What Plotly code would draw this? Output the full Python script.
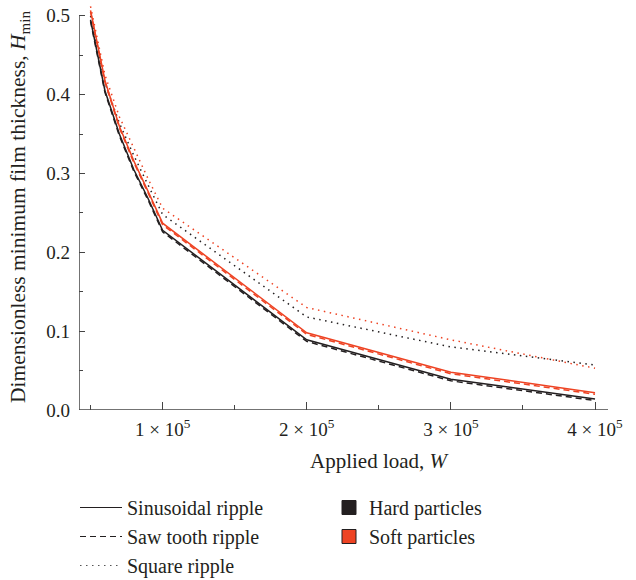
import plotly.graph_objects as go

# Applied load W and dimensionless minimum film thickness H_min
load = [50000, 60000, 70000, 80000, 90000, 100000, 200000, 300000, 400000]

hard_sinusoidal = [0.495, 0.405, 0.350, 0.305, 0.268, 0.228, 0.089, 0.039, 0.014]
hard_sawtooth = [0.493, 0.403, 0.348, 0.303, 0.266, 0.226, 0.087, 0.037, 0.012]
hard_square = [0.500, 0.415, 0.364, 0.323, 0.285, 0.248, 0.118, 0.080, 0.057]

soft_sinusoidal = [0.507, 0.418, 0.360, 0.316, 0.277, 0.237, 0.098, 0.048, 0.022]
soft_sawtooth = [0.505, 0.416, 0.358, 0.314, 0.275, 0.235, 0.096, 0.046, 0.020]
soft_square = [0.512, 0.425, 0.372, 0.332, 0.293, 0.256, 0.130, 0.089, 0.053]

x_tickvals = [100000, 200000, 300000, 400000]
x_ticktext = ["1 × 10<sup>5</sup>", "2 × 10<sup>5</sup>", "3 × 10<sup>5</sup>", "4 × 10<sup>5</sup>"]
y_tickvals = [0.0, 0.1, 0.2, 0.3, 0.4, 0.5]

X_MIN, X_MAX = 42000, 409000
Y_MIN, Y_MAX, Y_AXIS_TOP = 0.0, 0.515, 0.5

BLACK = "#231f20"
RED = "#ee4323"
AXIS = "#444444"
FONT = "Liberation Serif"

DASH = "6px,4px"
DOT = "1.5px,4.5px"

# plot area in pixels (used to place legends and labels in paper coordinates)
L, R, T, B = 79, 28, 4, 170
W_FIG, H_FIG = 636, 580
PW, PH = W_FIG - L - R, H_FIG - T - B

fig = go.Figure()

series = [
    (hard_square, BLACK, DOT),
    (soft_square, RED, DOT),
    (hard_sawtooth, BLACK, DASH),
    (hard_sinusoidal, BLACK, "solid"),
    (soft_sawtooth, RED, DASH),
    (soft_sinusoidal, RED, "solid"),
]
for values, color, dash in series:
    fig.add_trace(go.Scatter(
        x=load, y=values, mode="lines",
        line=dict(color=color, width=1.5, dash=dash),
        showlegend=False, hoverinfo="skip",
    ))

# Legend: ripple shapes (line styles)
ripple_entries = [("Sinusoidal ripple", "solid"), ("Saw tooth ripple", DASH), ("Square ripple", DOT)]
for i, (name, dash) in enumerate(ripple_entries):
    fig.add_trace(go.Scatter(
        x=[None], y=[None], mode="lines", name=name,
        line=dict(color=BLACK if dash != DOT else "#555555", width=1.2, dash=dash),
        legend="legend", legendgroup=f"r{i}",
    ))

# Legend: particle types (colours)
particle_entries = [("Hard particles", BLACK), ("Soft particles", RED)]
for i, (name, color) in enumerate(particle_entries):
    fig.add_trace(go.Scatter(
        x=[None], y=[None], mode="markers", name=name,
        marker=dict(symbol="square", size=14, color=color, line=dict(color=BLACK, width=1)),
        legend="legend2", legendgroup=f"p{i}",
    ))

legend_common = dict(
    font=dict(family=FONT, size=20, color=BLACK),
    bgcolor="rgba(0,0,0,0)",
    tracegroupgap=0,
    xanchor="left", yanchor="top",
    itemclick=False, itemdoubleclick=False,
)

def px_x(px):
    return (px - L) / PW

def px_y(py):
    return (H_FIG - B - py) / PH

# axis lines: the left one stops at 0.5 while curves may rise slightly above it
axis_lines = [
    dict(type="line", xref="x", yref="y", x0=X_MIN, x1=X_MIN, y0=Y_MIN, y1=Y_AXIS_TOP),
    dict(type="line", xref="x", yref="y", x0=X_MIN, x1=X_MAX, y0=Y_MIN, y1=Y_MIN),
]
for s in axis_lines:
    s["line"] = dict(color=AXIS, width=1.5)
    s["layer"] = "above"

fig.update_layout(
    width=W_FIG, height=H_FIG,
    margin=dict(l=L, r=R, t=T, b=B, autoexpand=False),
    paper_bgcolor="white", plot_bgcolor="white",
    font=dict(family=FONT, size=19, color=BLACK),
    shapes=axis_lines,
    annotations=[dict(
        text="Applied load, <i>W</i>", xref="paper", yref="paper",
        x=px_x(380), y=px_y(461), xanchor="center", yanchor="middle",
        showarrow=False, font=dict(family=FONT, size=21, color=BLACK),
    )],
    xaxis=dict(
        range=[X_MIN, X_MAX],
        tickmode="array", tickvals=x_tickvals, ticktext=x_ticktext,
        ticks="inside", ticklen=8, tickwidth=1.3, tickcolor=AXIS,
        minor=dict(tickmode="array", tickvals=[50000, 150000, 250000, 350000],
                   ticks="inside", ticklen=5, tickwidth=1.3, tickcolor=AXIS),
        showline=False, showgrid=False, zeroline=False,
        ticklabelstandoff=6,
        tickfont=dict(family=FONT, size=19, color=BLACK),
    ),
    yaxis=dict(
        range=[Y_MIN, Y_MAX],
        tickmode="array", tickvals=y_tickvals, tickformat=".1f",
        ticks="inside", ticklen=6, tickwidth=1.3, tickcolor=AXIS,
        minor=dict(tickmode="array", tickvals=[0.05, 0.15, 0.25, 0.35, 0.45],
                   ticks="inside", ticklen=4, tickwidth=1.3, tickcolor=AXIS),
        showline=False, showgrid=False, zeroline=False,
        ticklabelstandoff=8,
        tickfont=dict(family=FONT, size=19, color=BLACK),
        title=dict(text="Dimensionless minimum film thickness, <i>H</i><sub>min</sub>",
                   font=dict(family=FONT, size=21.5, color=BLACK), standoff=14),
    ),
    legend=dict(x=px_x(75), y=px_y(488), itemwidth=42, **legend_common),
    legend2=dict(x=px_x(329), y=px_y(488), **legend_common),
)

fig.write_html("out.html")
